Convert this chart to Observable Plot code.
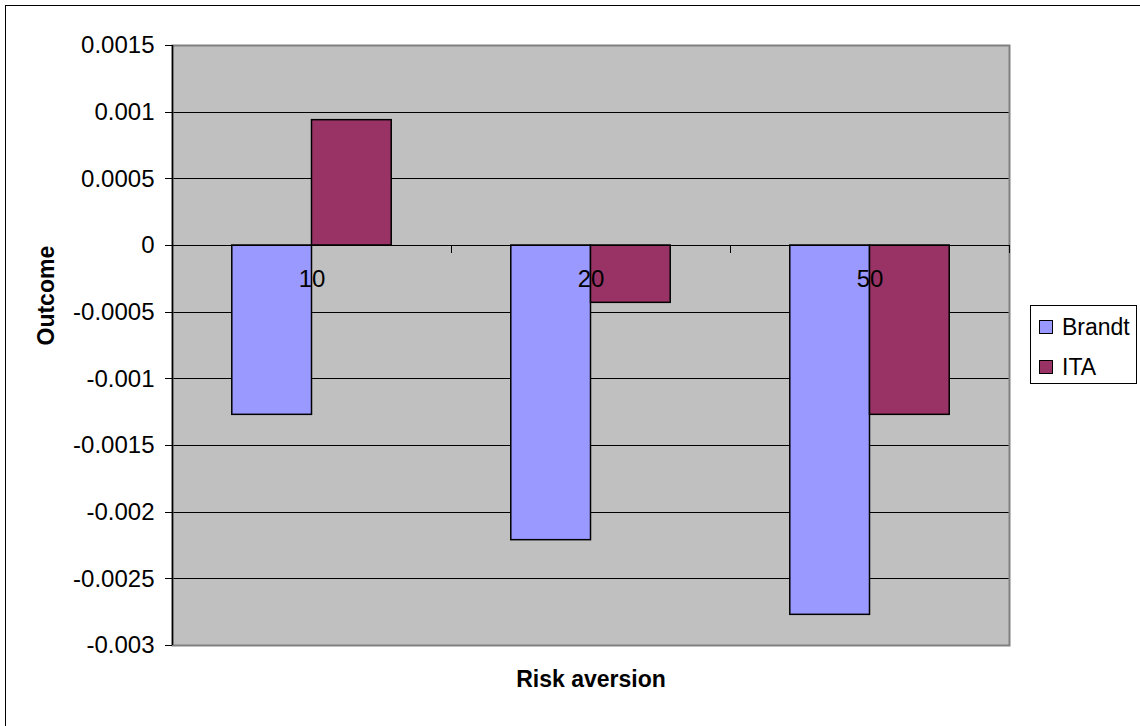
<!DOCTYPE html>
<html>
<head>
<meta charset="utf-8">
<title>Outcome by risk aversion</title>
<script src="https://cdn.jsdelivr.net/npm/d3@7"></script>
<script src="https://cdn.jsdelivr.net/npm/@observablehq/plot@0.6"></script>
<style>
  html, body { margin: 0; padding: 0; background: #fff; }
  #chart {
    position: relative;
    width: 1140px;
    height: 726px;
    overflow: hidden;
    font-family: "Liberation Sans", Arial, sans-serif;
    color: #000;
  }
  #chart svg { position: absolute; left: 0; top: 0; }
  #outline {
    position: absolute;
    left: 5px; top: 5px;
    width: 1160px; height: 760px;
    border: 1.5px solid #000;
    box-sizing: border-box;
    pointer-events: none;
  }
  #legend {
    position: absolute;
    left: 1030px; top: 305px;
    width: 107px; height: 79px;
    box-sizing: border-box;
    border: 1px solid #000;
    background: #fff;
    padding: 1px 0 0 8px;
    font-size: 23px;
  }
  #legend .row { display: flex; align-items: center; height: 40px; }
  #legend .sw {
    width: 12px; height: 12px;
    border: 1.5px solid #000;
    margin-right: 9px;
    flex: none;
  }
</style>
</head>
<body>
<div id="chart"><div id="outline"></div></div>
<script>
// Categories (risk aversion) and the two series
const categories = ["10", "20", "50"];
const series = ["Brandt", "ITA"];
const brandt = [-0.00127, -0.00221, -0.00277];
const ita = [0.00094, -0.00043, -0.00127];
const seriesColors = ["#9999FF", "#993366"];

// Value axis ticks and their labels
const yTicks = [0.0015, 0.001, 0.0005, 0, -0.0005, -0.001, -0.0015, -0.002, -0.0025, -0.003];
const yTickLabels = ["0.0015", "0.001", "0.0005", "0", "-0.0005", "-0.001", "-0.0015", "-0.002", "-0.0025", "-0.003"];

const xLabel = "Risk aversion";
const yLabel = "Outcome";

// Long table: one row per bar
const seriesValues = [brandt, ita];
const rows = categories.flatMap((cat, i) =>
  series.map((s, j) => ({cat, i, j, series: s, value: seriesValues[j][i]}))
);

// Clustered layout: each category occupies one unit; gap between clusters is 150% of a bar
const gapWidth = 1.5;
const barW = 1 / (series.length + gapWidth);
const barX1 = d => d.i - (barW * series.length) / 2 + barW * d.j;
const barX2 = d => barX1(d) + barW;

// Category boundaries carry the small tick marks on the zero line
const bounds = d3.range(categories.length + 1).map(k => k - 0.5);

const plot = Plot.plot({
  width: 1140,
  height: 726,
  marginLeft: 172,
  marginRight: 131,
  marginTop: 45,
  marginBottom: 81,
  style: {
    fontFamily: '"Liberation Sans", Arial, sans-serif',
    fontSize: "24px",
    background: "transparent",
    color: "#000"
  },
  x: {domain: [-0.5, categories.length - 0.5], axis: null},
  y: {domain: [-0.003, 0.0015], axis: null},
  color: {domain: series, range: seriesColors},
  marks: [
    Plot.frame({fill: "#C0C0C0", stroke: "none"}),
    Plot.gridY(yTicks, {stroke: "#000", strokeOpacity: 1, strokeWidth: 1, shapeRendering: "crispEdges"}),
    Plot.frame({fill: "none", stroke: "#808080", strokeWidth: 2}),
    Plot.rect(rows, {
      x1: barX1,
      x2: barX2,
      y1: 0,
      y2: "value",
      fill: "series",
      stroke: "#000",
      strokeWidth: 1.5
    }),
    Plot.ruleY([0], {stroke: "#000", strokeWidth: 1, shapeRendering: "crispEdges"}),
    Plot.ruleX(bounds, {y1: 0, y2: 0, insetBottom: -8, stroke: "#000", strokeWidth: 1, shapeRendering: "crispEdges"}),
    Plot.ruleX([-0.5], {stroke: "#000", strokeWidth: 1.5}),
    Plot.axisY(yTicks, {
      tickSize: 7,
      tickPadding: 11,
      tickFormat: d => yTickLabels[yTicks.indexOf(d)],
      fontSize: 24,
      label: null,
      stroke: "#000",
      shapeRendering: "crispEdges"
    }),
    Plot.text(categories, {x: (d, i) => i, y: () => 0, dy: 34, text: d => d, fontSize: 24}),
    Plot.text([yLabel], {frameAnchor: "left", dx: -126, rotate: -90, fontWeight: "bold", fontSize: 23}),
    Plot.text([xLabel], {frameAnchor: "bottom", dy: 41, fontWeight: "bold", fontSize: 23})
  ]
});

const chart = document.getElementById("chart");
chart.appendChild(plot);

// Legend built from the plot's colour scale
const color = plot.scale("color");
const legend = document.createElement("div");
legend.id = "legend";
color.domain.forEach((name, k) => {
  const row = document.createElement("div");
  row.className = "row";
  const sw = document.createElement("span");
  sw.className = "sw";
  sw.style.background = color.range[k];
  const label = document.createElement("span");
  label.textContent = name;
  row.appendChild(sw);
  row.appendChild(label);
  legend.appendChild(row);
});
chart.appendChild(legend);
</script>
</body>
</html>
